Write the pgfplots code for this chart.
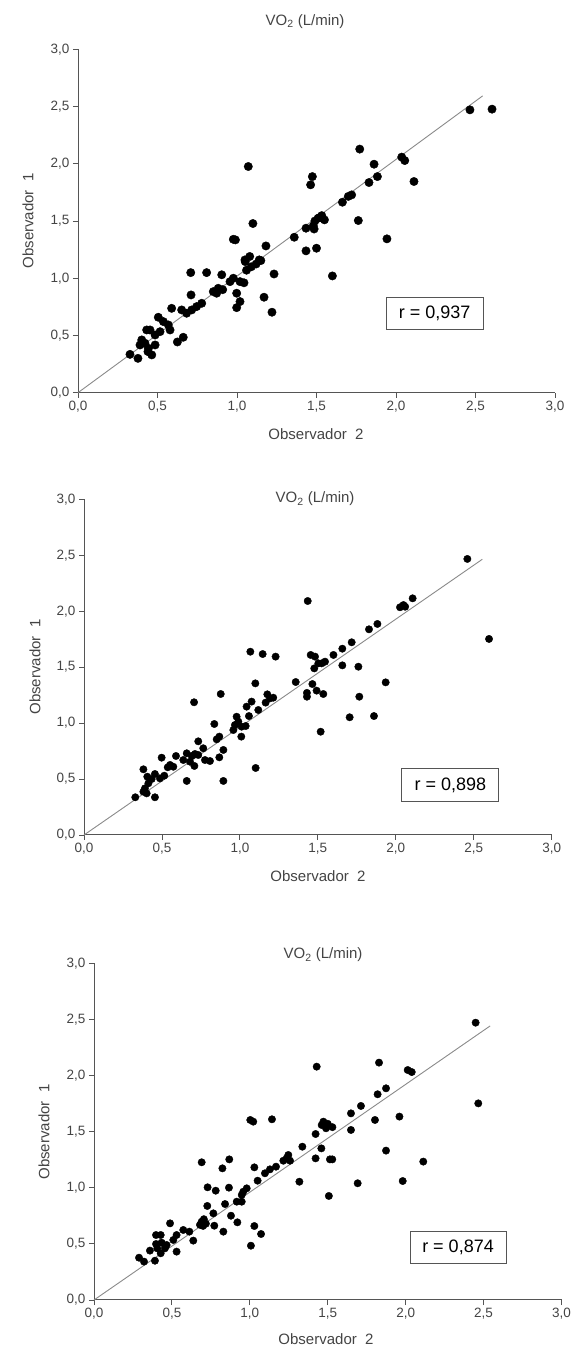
\documentclass[border=0pt]{standalone}
\usepackage{fontspec}
\setmainfont{Liberation Sans}
\usepackage{pgfplots}
\pgfplotsset{compat=1.18}
\definecolor{axisgray}{HTML}{555555}
\definecolor{textgray}{HTML}{444444}
\definecolor{linegray}{HTML}{8A8A8A}
\pgfplotsset{
  vo2/.style={
    scale only axis,
    anchor=south west,
    xmin=0,xmax=3,ymin=0,ymax=3,
    axis lines=left,
    axis line style={-, draw=axisgray, line width=1pt},
    xtick={0,0.5,1,1.5,2,2.5,3},
    ytick={0,0.5,1,1.5,2,2.5,3},
    tick align=outside,
    major tick length=5pt,
    tick style={draw=axisgray, line width=0.9pt},
    ticklabel style={font=\fontsize{13.5}{15}\selectfont, text=textgray},
    /pgf/number format/.cd, use comma, fixed, fixed zerofill, precision=1, assume math mode=true,
    /pgfplots/.cd,
    clip=false,
  }
}
\begin{document}
\begin{tikzpicture}[x=1pt,y=1pt]
\useasboundingbox (0,0) rectangle (573,1349);
% ---------------- Plot 1 ----------------
\begin{axis}[vo2, width=477pt, height=343.4pt, at={(78pt,956.3pt)}]
\addplot[linegray, line width=0.9pt] coordinates {(0,0) (2.545,2.593)};
\addplot[only marks, mark=*, mark size=4.2pt, black] table {
x y
1.071 1.976
1.474 1.888
1.463 1.816
1.100 1.478
0.977 1.340
0.990 1.335
1.360 1.358
1.434 1.437
1.480 1.457
1.485 1.430
1.510 1.524
1.434 1.239
1.500 1.262
1.182 1.282
1.080 1.190
1.052 1.145
1.150 1.154
1.120 1.124
1.090 1.100
1.060 1.070
0.709 1.049
0.809 1.049
0.904 1.030
1.233 1.037
0.711 0.854
0.589 0.737
0.652 0.723
0.683 0.694
0.715 0.723
0.746 0.752
0.778 0.781
0.851 0.883
0.882 0.912
0.872 0.869
0.910 0.900
0.956 0.970
0.977 1.000
1.019 0.970
1.044 0.960
0.998 0.869
1.019 0.796
0.998 0.743
1.170 0.834
1.220 0.703
1.050 1.160
1.140 1.160
0.505 0.659
0.537 0.621
0.568 0.592
0.579 0.548
0.516 0.533
0.485 0.504
0.432 0.548
0.453 0.548
0.662 0.484
0.625 0.443
0.401 0.461
0.390 0.417
0.421 0.432
0.443 0.388
0.485 0.417
0.440 0.359
0.464 0.330
0.327 0.335
0.377 0.300
2.465 2.471
2.604 2.477
1.772 2.128
1.862 1.996
2.036 2.058
2.055 2.028
1.883 1.888
1.830 1.836
2.113 1.845
1.721 1.728
1.700 1.715
1.663 1.664
1.533 1.547
1.550 1.510
1.520 1.530
1.490 1.500
1.763 1.504
1.943 1.344
1.600 1.020
};
\node[draw=axisgray, line width=0.8pt, fill=white, minimum width=97pt, minimum height=32pt, inner sep=0pt, font=\fontsize{18}{20}\selectfont] at (axis cs:2.243,0.697) {r = 0,937};
\end{axis}
% ---------------- Plot 2 ----------------
\begin{axis}[vo2, width=467.7pt, height=335.7pt, at={(84pt,514pt)}]
\addplot[linegray, line width=0.9pt] coordinates {(0,0) (2.555,2.464)};
\addplot[only marks, mark=*, mark size=3.7pt, black] table {
x y
1.435 2.091
1.067 1.638
1.146 1.617
1.229 1.594
1.454 1.609
1.482 1.594
1.477 1.489
1.503 1.534
1.358 1.367
1.099 1.355
1.465 1.349
1.430 1.270
1.430 1.236
1.492 1.290
0.877 1.260
0.706 1.186
1.176 1.257
1.193 1.221
1.214 1.227
1.165 1.183
1.118 1.117
1.075 1.192
1.043 1.147
1.058 1.063
0.979 1.057
0.990 1.013
0.958 0.938
1.011 0.968
1.037 0.974
0.968 0.983
1.009 0.879
0.836 0.992
0.868 0.879
0.851 0.855
0.894 0.760
0.868 0.694
0.733 0.837
0.765 0.775
0.776 0.670
0.808 0.661
0.712 0.724
0.733 0.715
0.691 0.706
0.659 0.730
0.637 0.670
0.680 0.655
0.708 0.617
0.590 0.706
0.573 0.610
0.552 0.626
0.537 0.605
0.498 0.691
0.515 0.530
0.455 0.545
0.487 0.506
0.434 0.500
0.406 0.521
0.381 0.587
0.413 0.462
0.391 0.417
0.381 0.387
0.402 0.372
0.455 0.337
0.329 0.337
0.659 0.483
0.894 0.483
1.101 0.599
1.518 0.923
2.459 2.467
2.598 1.752
2.108 2.115
2.027 2.035
2.049 2.055
2.060 2.040
1.882 1.886
1.828 1.838
1.717 1.722
1.657 1.665
1.600 1.609
1.546 1.549
1.525 1.534
1.657 1.516
1.760 1.504
1.935 1.364
1.535 1.260
1.766 1.236
1.704 1.052
1.860 1.063
};
\node[draw=axisgray, line width=0.8pt, fill=white, minimum width=97pt, minimum height=33pt, inner sep=0pt, font=\fontsize{18}{20}\selectfont] at (axis cs:2.350,0.447) {r = 0,898};
\end{axis}
% ---------------- Plot 3 ----------------
\begin{axis}[vo2, width=467.5pt, height=336.7pt, at={(94pt,49pt)}]
\addplot[linegray, line width=0.9pt] coordinates {(0,0) (2.542,2.442)};
\addplot[only marks, mark=*, mark size=3.7pt, black] table {
x y
1.429 2.079
1.003 1.604
1.022 1.589
1.142 1.610
1.422 1.479
1.472 1.589
1.461 1.559
1.489 1.530
1.337 1.366
1.459 1.351
1.422 1.262
1.514 1.253
1.247 1.292
1.236 1.262
1.258 1.241
1.215 1.241
1.168 1.188
1.129 1.164
1.097 1.129
1.050 1.063
1.029 1.182
0.868 1.253
0.824 1.173
0.691 1.227
0.980 0.995
0.958 0.965
0.948 0.936
0.948 0.876
0.916 0.876
0.866 1.001
0.841 0.855
0.781 0.974
0.729 1.004
1.318 1.054
1.507 0.927
0.727 0.838
0.766 0.772
0.879 0.751
0.920 0.692
0.691 0.698
0.705 0.720
0.718 0.680
0.700 0.660
0.680 0.670
0.772 0.662
0.830 0.609
1.029 0.659
1.072 0.588
1.007 0.484
0.637 0.529
0.612 0.609
0.573 0.624
0.530 0.579
0.509 0.535
0.488 0.683
0.530 0.431
0.466 0.490
0.455 0.460
0.434 0.511
0.398 0.579
0.428 0.579
0.398 0.499
0.406 0.460
0.359 0.440
0.391 0.350
0.289 0.377
0.321 0.342
0.428 0.416
2.449 2.471
2.466 1.752
1.829 2.115
2.013 2.049
2.039 2.031
1.874 1.886
1.820 1.833
1.713 1.729
1.649 1.663
1.649 1.515
1.803 1.604
1.960 1.634
1.500 1.570
1.530 1.540
1.529 1.253
1.874 1.331
2.113 1.233
1.692 1.040
1.981 1.060
};
\node[draw=axisgray, line width=0.8pt, fill=white, minimum width=96pt, minimum height=32pt, inner sep=0pt, font=\fontsize{18}{20}\selectfont] at (axis cs:2.336,0.468) {r = 0,874};
\end{axis}
% ---------------- Texts ----------------
\tikzset{lbl/.style={text=textgray, font=\fontsize{15}{17}\selectfont, inner sep=0pt}}
\node[lbl] at (305,1327.3) {VO\textsubscript{2} (L/min)};
\node[lbl] at (315,850) {VO\textsubscript{2} (L/min)};
\node[lbl] at (323,394) {VO\textsubscript{2} (L/min)};
\node[lbl] at (316,915) {Observador~~2};
\node[lbl] at (318,473) {Observador~~2};
\node[lbl] at (326,10) {Observador~~2};
\node[lbl, rotate=90] at (28,1128) {Observador~~1};
\node[lbl, rotate=90] at (35,682) {Observador~~1};
\node[lbl, rotate=90] at (44,217) {Observador~~1};
\end{tikzpicture}
\end{document}
